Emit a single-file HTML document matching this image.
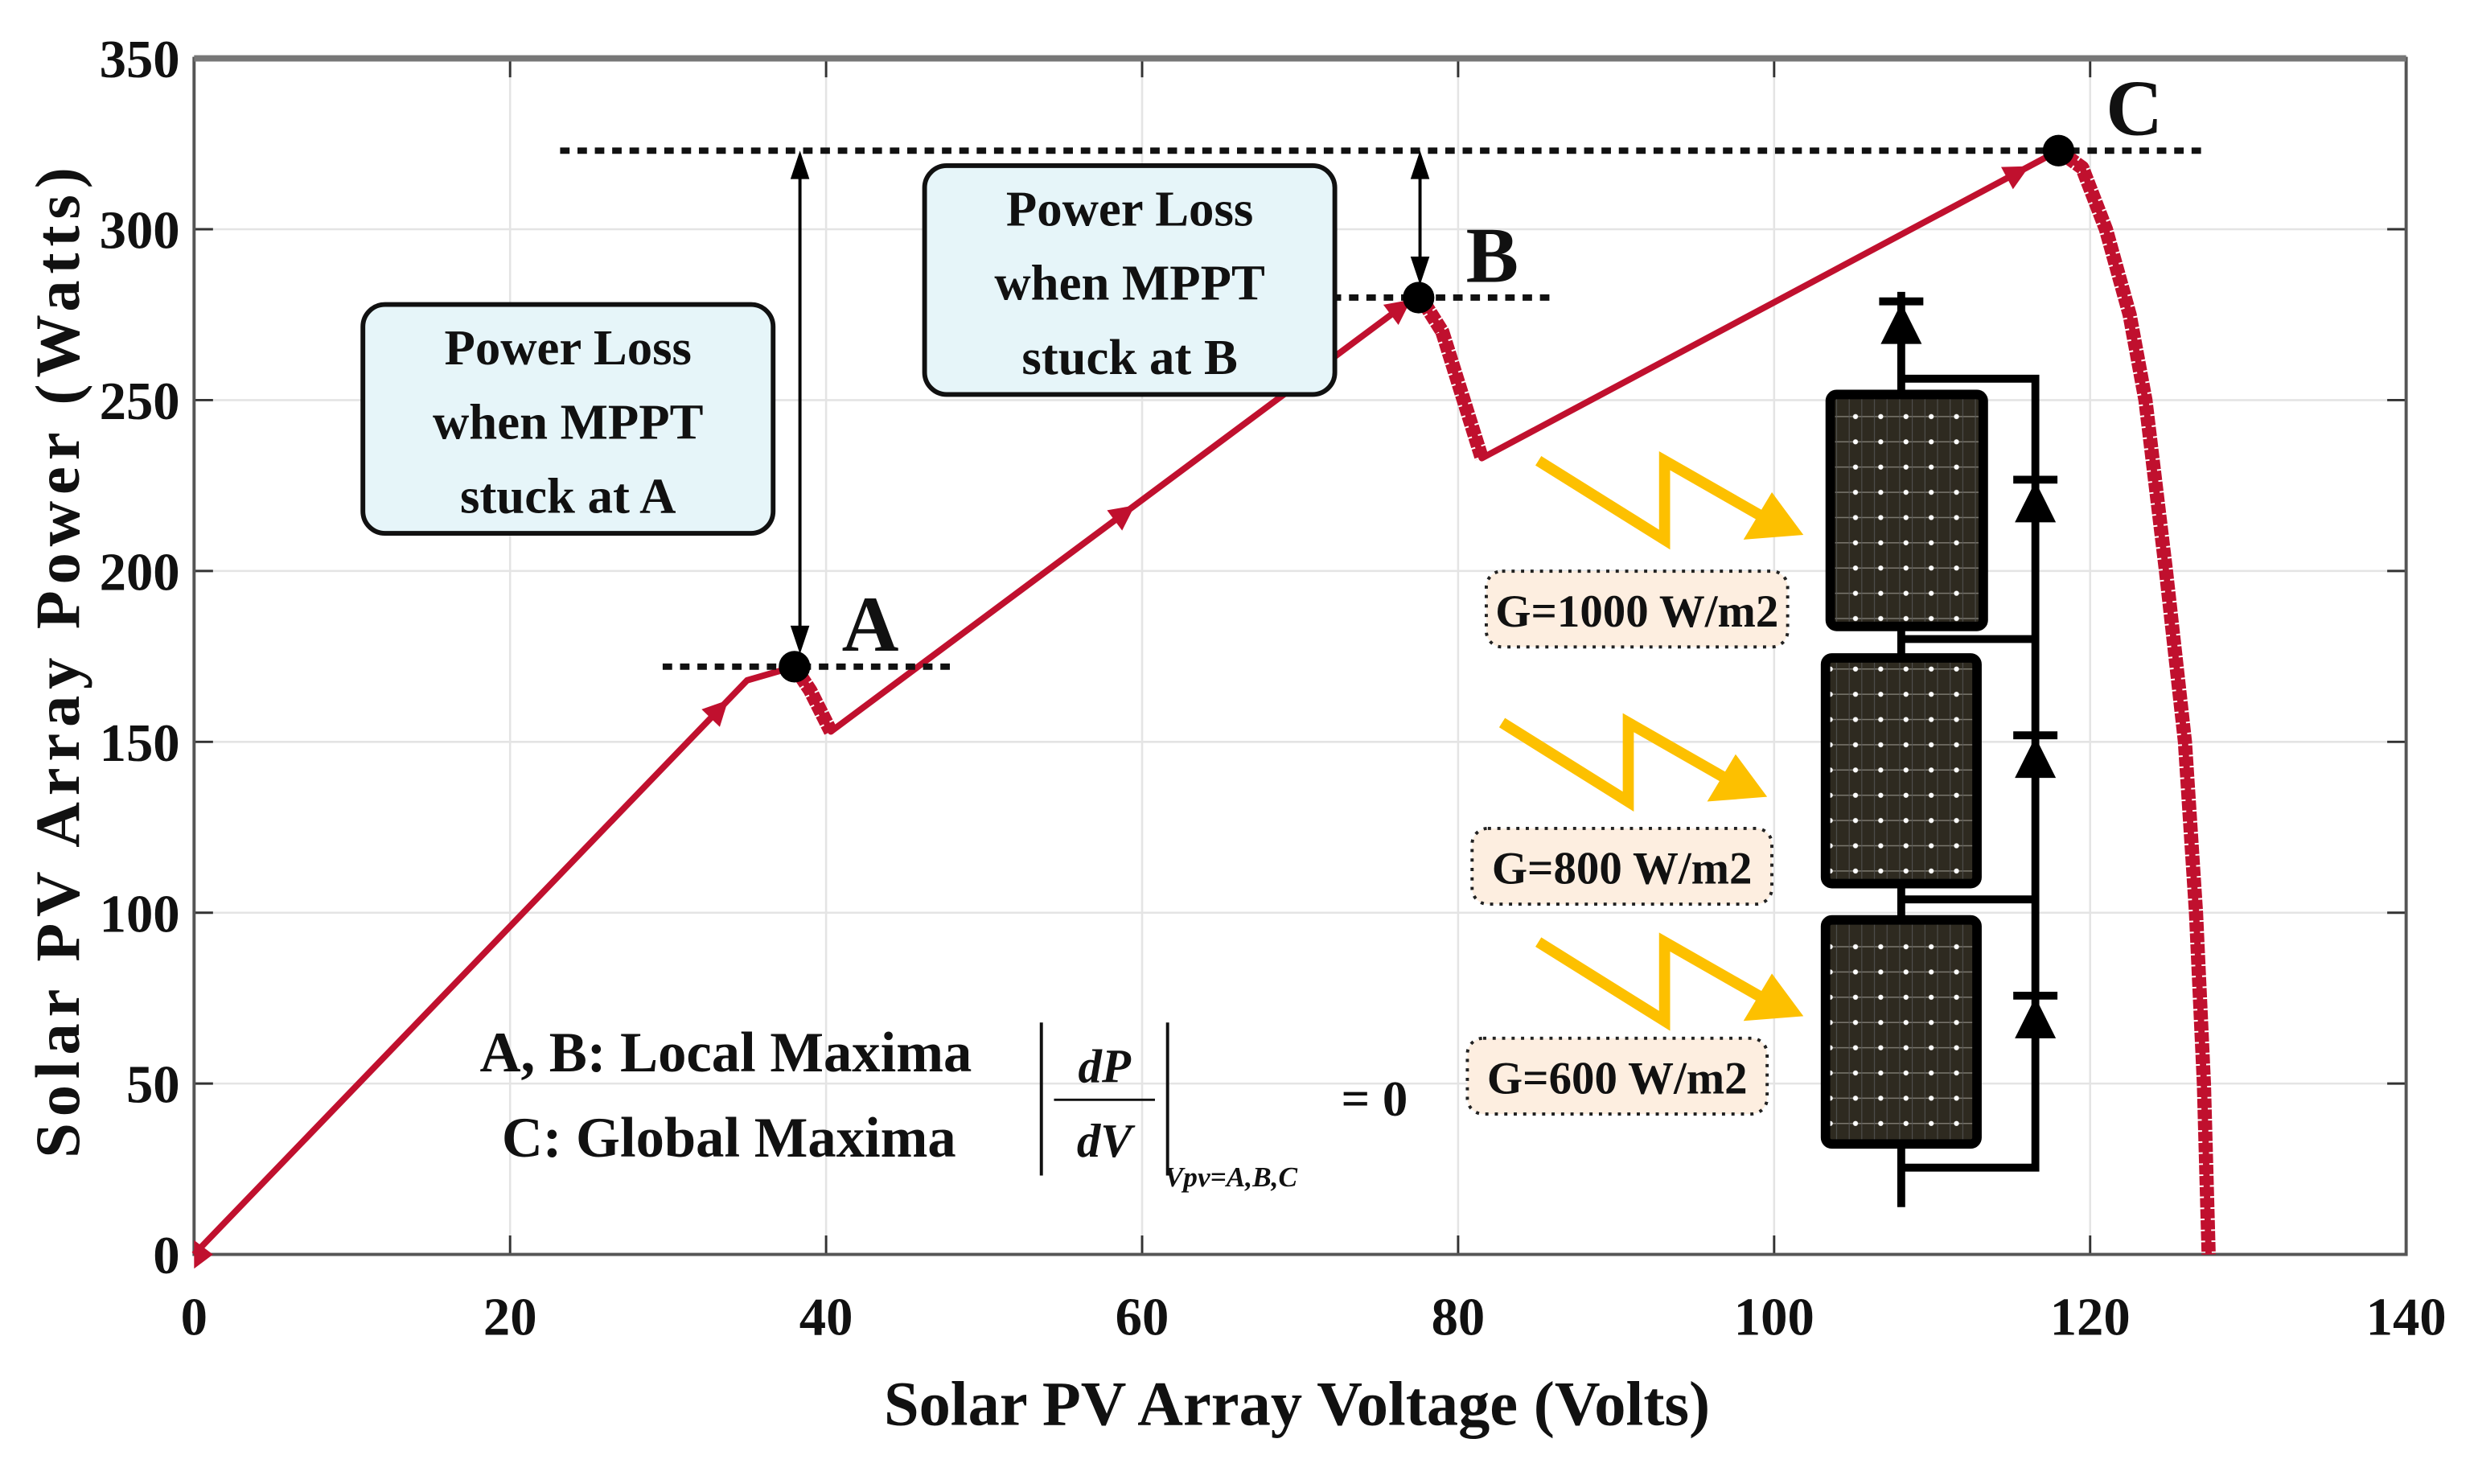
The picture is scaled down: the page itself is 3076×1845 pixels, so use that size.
<!DOCTYPE html>
<html><head><meta charset="utf-8"><style>
html,body{margin:0;padding:0;background:#fff}
svg{display:block}
text{font-family:"Liberation Serif",serif;font-weight:bold;fill:#111}
</style></head><body>
<svg id="chart" width="3076" height="1845" viewBox="0 0 1568 940.5" xmlns="http://www.w3.org/2000/svg">
<defs>
<pattern id="cells" width="16" height="16" patternUnits="userSpaceOnUse">
<rect width="16" height="16" fill="#2e2a20"/>
<line x1="0" y1="8" x2="16" y2="8" stroke="#7a776e" stroke-width="0.7"/>
<line x1="4" y1="0" x2="4" y2="16" stroke="#555" stroke-width="0.5"/>
<line x1="12" y1="0" x2="12" y2="16" stroke="#555" stroke-width="0.5"/>
<circle cx="8" cy="8" r="1.6" fill="#fff"/>
</pattern>
</defs>
<g id="grid"></g>
<g id="axes"></g>
<g id="series"></g>
<g id="annot"></g>
</svg>
<script>
const xTicks = [0,20,40,60,80,100,120,140];
const yTicks = [0,50,100,150,200,250,300,350];
const volts = [0, 35, 38, 39, 40.3, 77.5, 79, 81.5, 118, 119.5, 121, 122.5, 123.5, 124.8, 126, 126.7, 127.2, 127.5];
const power = [0, 168, 172, 165, 153, 281, 270, 233, 323, 318, 300, 275, 250, 200, 150, 100, 50, 0];
const maxima = [{n:'A',v:38,p:172},{n:'B',v:77.5,p:280},{n:'C',v:118,p:323}];

const L=123,R=1525,T=37,B=795;
const sx=v=>L+(v-0)/140*(R-L);
const sy=p=>B-(p/350)*(B-T);
const NS='http://www.w3.org/2000/svg';
function mk(tag,attrs,parent,txt){const e=document.createElementNS(NS,tag);for(const k in attrs)e.setAttribute(k,attrs[k]);if(txt!==undefined)e.textContent=txt;parent.appendChild(e);return e;}
const grid=document.getElementById('grid'),axes=document.getElementById('axes'),series=document.getElementById('series'),an=document.getElementById('annot');

xTicks.forEach(t=>{
  const g=mk('line',{x1:sx(t),x2:sx(t),y1:T,y2:B,stroke:'#e4e4e4','stroke-width':1.3},grid);
  
  
  mk('line',{x1:sx(t),x2:sx(t),y1:B,y2:B-12,stroke:'#333','stroke-width':1.5},axes);
  mk('line',{x1:sx(t),x2:sx(t),y1:T,y2:T+12,stroke:'#333','stroke-width':1.5},axes);
  const l=mk('text',{x:sx(t),y:846,'text-anchor':'middle','font-size':34},axes,String(t));
  
  
});
yTicks.forEach(t=>{
  const g=mk('line',{x1:L,x2:R,y1:sy(t),y2:sy(t),stroke:'#e4e4e4','stroke-width':1.3},grid);
  
  
  mk('line',{x1:L,x2:L+12,y1:sy(t),y2:sy(t),stroke:'#333','stroke-width':1.5},axes);
  mk('line',{x1:R,x2:R-12,y1:sy(t),y2:sy(t),stroke:'#333','stroke-width':1.5},axes);
  const l=mk('text',{x:114,y:sy(t)+12,'text-anchor':'end','font-size':34},axes,String(t));
  
  
});
mk('rect',{x:L,y:T,width:R-L,height:B-T,fill:'none',stroke:'#555','stroke-width':2},axes);
mk('line',{x1:L,x2:R,y1:T,y2:T,stroke:'#777','stroke-width':4},axes);
const xt=mk('text',{x:822,y:903,'text-anchor':'middle','font-size':40},axes,'Solar PV Array Voltage (Volts)');


const yt=mk('text',{x:0,y:0,'text-anchor':'middle','font-size':40,'letter-spacing':4,transform:'translate(50,418) rotate(-90)'},axes,'Solar PV Array Power (Watts)');



const pts=volts.map((v,i)=>sx(v)+','+sy(power[i])).join(' ');
const pl=mk('polyline',{points:pts,fill:'none',stroke:'#c0102e','stroke-width':4,'stroke-linejoin':'round'},series);


[[2,4],[5,7],[8,17]].forEach(([a,b])=>{
  const p=volts.slice(a,b+1).map((v,i)=>sx(v)+','+sy(power[a+i])).join(' ');
  const s=mk('polyline',{points:p,fill:'none',stroke:'#c0102e','stroke-width':9,'stroke-linejoin':'round','stroke-dasharray':'6 1'},series);
  
  
});
[[0,1,0.95],[4,5,0.5],[4,5,0.97],[7,8,0.93]].forEach(([a,b,f])=>{
  const x1=sx(volts[a]),y1=sy(power[a]),x2=sx(volts[b]),y2=sy(power[b]);
  const x=x1+(x2-x1)*f,y=y1+(y2-y1)*f,ang=Math.atan2(y2-y1,x2-x1)*180/Math.PI;
  const m=mk('polygon',{points:'8,0 -8,-8 -8,8',fill:'#c0102e',transform:`translate(${x},${y}) rotate(${ang})`},series);
  
  
});
mk('polygon',{points:`${sx(0)},${sy(0)-9} ${sx(0)+12},${sy(0)} ${sx(0)},${sy(0)+9}`,fill:'#c0102e'},series);

const ext={A:[420,603],B:[800,985],C:[355,1400]};
maxima.forEach(m=>{
  const y=sy(m.p);
  const d=mk('line',{x1:ext[m.n][0],x2:ext[m.n][1],y1:y,y2:y,stroke:'#111','stroke-width':4,'stroke-dasharray':'6 5'},an);
  
  
  const c=mk('circle',{cx:sx(m.v),cy:y,r:10,fill:'#000'},an);
  
  
  const t=mk('text',{x:sx(m.v)+30,y:y-10,'font-size':50,'font-weight':'normal'},an,m.n);
  
  
});
function darrow(x,y1,y2,name){
  const g=mk('g',{},an);
  
  
  mk('line',{x1:x,x2:x,y1:y1+14,y2:y2-14,stroke:'#000','stroke-width':2},g);
  mk('polygon',{points:`${x},${y1} ${x-6},${y1+18} ${x+6},${y1+18}`,fill:'#000'},g);
  mk('polygon',{points:`${x},${y2} ${x-6},${y2-18} ${x+6},${y2-18}`,fill:'#000'},g);
}
darrow(507,sy(323),sy(172)-8,'loss-arrow-a');
darrow(900,sy(323),sy(280)-8,'loss-arrow-b');
</script>

<script>
(function(){
const NS='http://www.w3.org/2000/svg';const an=document.getElementById('annot');
function mk(tag,attrs,parent,txt){const e=document.createElementNS(NS,tag);for(const k in attrs)e.setAttribute(k,attrs[k]);if(txt!==undefined)e.textContent=txt;parent.appendChild(e);return e;}
function box(x,y,w,h,lines,name){
  const g=mk('g',{},an);
  
  
  mk('rect',{x:x,y:y,width:w,height:h,rx:14,fill:'#e6f5f9',stroke:'#111','stroke-width':3},g);
  lines.forEach((l,i)=>mk('text',{x:x+w/2,y:y+38+i*47,'text-anchor':'middle','font-size':32},g,l));
}
box(230,193,260,145,['Power Loss','when MPPT','stuck at A'],'power-loss-box-a');
box(586,105,260,145,['Power Loss','when MPPT','stuck at B'],'power-loss-box-b');

const eq=mk('g',{},an);


mk('text',{x:460,y:679,'text-anchor':'middle','font-size':36},eq,'A, B: Local Maxima');
mk('text',{x:462,y:733,'text-anchor':'middle','font-size':36},eq,'C: Global Maxima');
mk('line',{x1:660,x2:660,y1:648,y2:745,stroke:'#111','stroke-width':2},eq);
mk('line',{x1:740,x2:740,y1:648,y2:745,stroke:'#111','stroke-width':2},eq);
mk('line',{x1:668,x2:732,y1:697,y2:697,stroke:'#111','stroke-width':1.5},eq);
mk('text',{x:700,y:686,'text-anchor':'middle','font-size':30,'font-style':'italic','font-weight':'normal'},eq,'dP');
mk('text',{x:700,y:733,'text-anchor':'middle','font-size':30,'font-style':'italic','font-weight':'normal'},eq,'dV');
mk('text',{x:738,y:752,'font-size':18,'font-style':'italic','font-weight':'normal'},eq,'Vpv=A,B,C');
mk('text',{x:850,y:707,'font-size':32,'font-weight':'normal'},eq,'= 0');

const c=mk('g',{},an);


const K={stroke:'#000','stroke-width':5,fill:'none'};
mk('line',Object.assign({x1:1205,x2:1205,y1:185,y2:765},K),c);
mk('polyline',Object.assign({points:'1205,240 1290,240 1290,740 1205,740'},K),c);
mk('line',Object.assign({x1:1205,x2:1290,y1:405,y2:405},K),c);
mk('line',Object.assign({x1:1205,x2:1290,y1:570,y2:570},K),c);
[[1160,250,97,147],[1157,417,96,143],[1157,583,96,142]].forEach(r=>{
  const p=mk('rect',{x:r[0],y:r[1],width:r[2],height:r[3],rx:4,fill:'url(#cells)',stroke:'#000','stroke-width':6},c);
  
  
});
[[1205,205],[1290,318],[1290,480],[1290,645]].forEach(d=>{
  const g=mk('g',{transform:`translate(${d[0]},${d[1]})`},c);
  
  
  mk('polygon',{points:'0,-13 -13,13 13,13',fill:'#000'},g);
  mk('line',{x1:-14,x2:14,y1:-14,y2:-14,stroke:'#000','stroke-width':5},g);
});
[[975,292],[952,458],[975,597]].forEach(a=>{
  const g=mk('g',{transform:`translate(${a[0]},${a[1]})`},c);
  
  
  mk('polyline',{points:'0,0 80,50 80,0 150,40',fill:'none',stroke:'#fdc000','stroke-width':7,'stroke-linejoin':'miter'},g);
  mk('polygon',{points:'168,47 130,50 148,20',fill:'#fdc000'},g);
});
[[942,362,191,'G=1000 W/m2'],[933,525,190,'G=800 W/m2'],[930,658,190,'G=600 W/m2']].forEach(b=>{
  const g=mk('g',{},c);
  
  
  mk('rect',{x:b[0],y:b[1],width:b[2],height:48,rx:10,fill:'#fdeee0',stroke:'#222','stroke-width':2,'stroke-dasharray':'2 4'},g);
  mk('text',{x:b[0]+b[2]/2,y:b[1]+35,'text-anchor':'middle','font-size':29},g,b[3]);
});
})();
</script>
</body></html>
